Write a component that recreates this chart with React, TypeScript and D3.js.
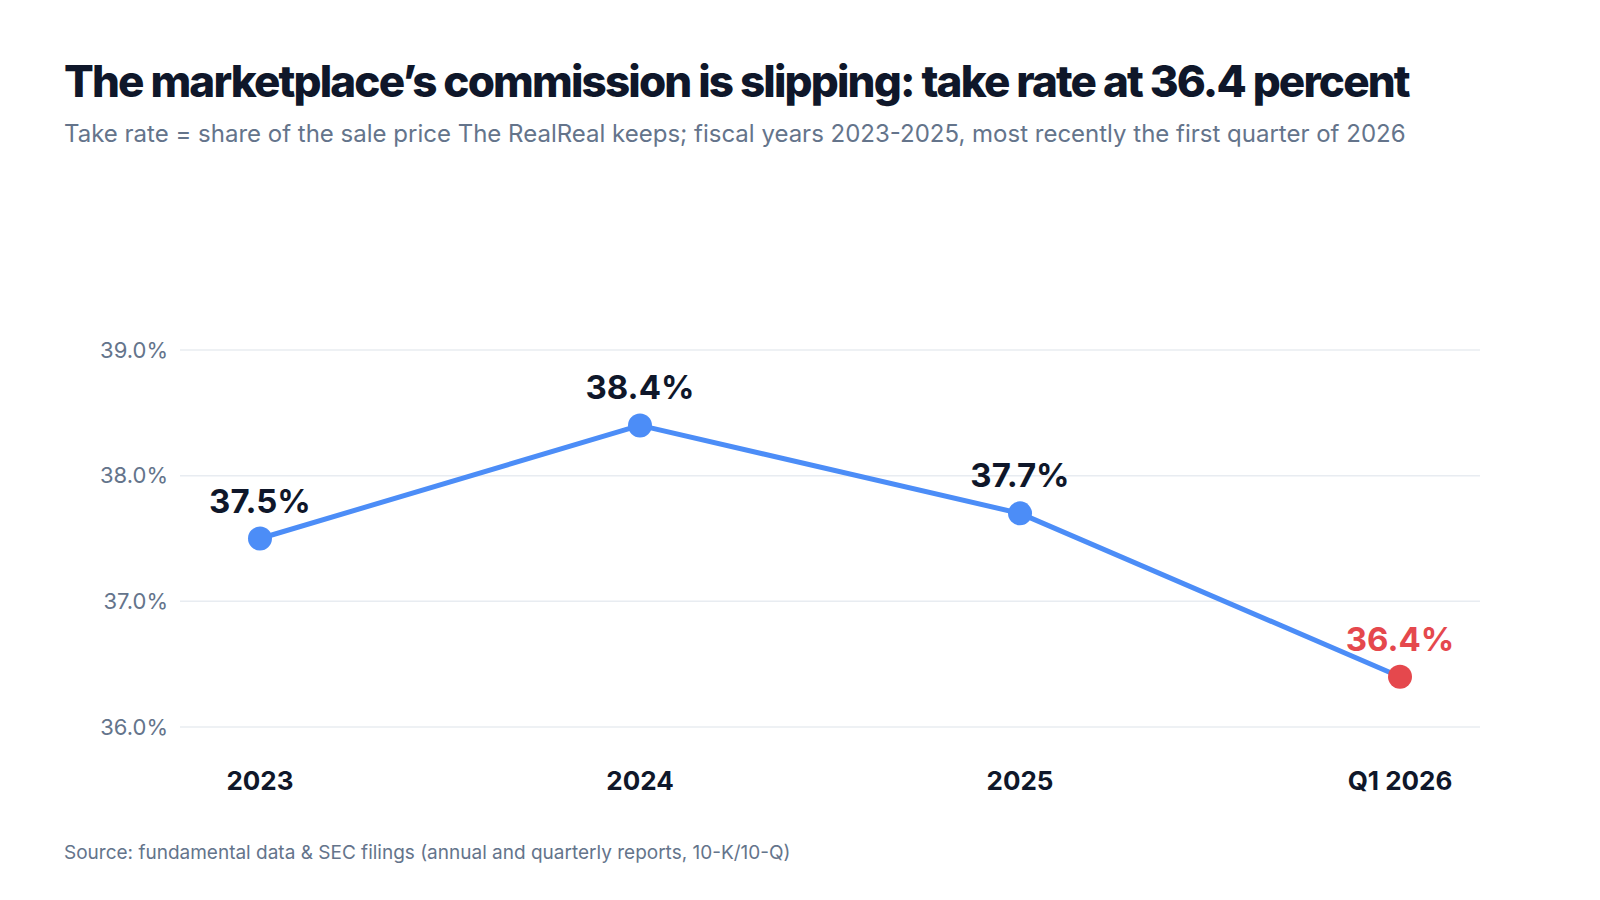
import React from "react";
import * as d3 from "d3";

const categories = ["2023", "2024", "2025", "Q1 2026"];
const takeRate = [37.5, 38.4, 37.7, 36.4];
const yTicks = [36, 37, 38, 39];
const highlightIndex = 3;

const W = 1600;
const H = 900;
const FONT = "Inter, 'Noto Sans', sans-serif";
const BLUE = "#4C8DF7";
const RED = "#E5484D";
const DARK = "#0F172A";
const SLATE = "#64748B";

export default function App() {
  const x = d3.scalePoint<string>().domain(categories).range([180, 1480]).padding(0.2105);
  const y = d3.scaleLinear().domain([36, 39]).range([727, 350]);
  const line = d3
    .line<number>()
    .x((_, i) => x(categories[i]) as number)
    .y((d) => y(d));

  return (
    <svg width={W} height={H} style={{ position: "absolute", left: 0, top: 0, background: "#fff" }} fontFamily={FONT}>
      <rect width={W} height={H} fill="#fff" />
      <text x={64} y={97} fontSize={44} fontWeight={800} fill={DARK} letterSpacing="-0.042em">
        The marketplace’s commission is slipping: take rate at 36.4 percent
      </text>
      <text x={64} y={142} fontSize={24} fill={SLATE}>
        Take rate = share of the sale price The RealReal keeps; fiscal years 2023-2025, most recently the first quarter of 2026
      </text>

      {yTicks.map((t) => (
        <g key={t}>
          <line x1={180} x2={1480} y1={y(t)} y2={y(t)} stroke="#E8ECF1" strokeWidth={1.5} />
          <text x={168} y={y(t)} dy="0.35em" textAnchor="end" fontSize={22} fill={SLATE}>
            {t.toFixed(1)}%
          </text>
        </g>
      ))}

      <path d={line(takeRate) || ""} fill="none" stroke={BLUE} strokeWidth={5} strokeLinejoin="round" />

      {takeRate.map((v, i) => {
        const cx = x(categories[i]) as number;
        const cy = y(v);
        const hl = i === highlightIndex;
        return (
          <g key={categories[i]}>
            <circle cx={cx} cy={cy} r={12} fill={hl ? RED : BLUE} />
            <text x={cx} y={cy - 26} textAnchor="middle" fontSize={33} fontWeight={700} fill={hl ? RED : DARK}>
              {v.toFixed(1)}%
            </text>
          </g>
        );
      })}

      {categories.map((c) => (
        <text key={c} x={x(c) as number} y={790} textAnchor="middle" fontSize={26} fontWeight={700} fill={DARK}>
          {c}
        </text>
      ))}

      <text x={64} y={859} fontSize={19} fill={SLATE}>
        Source: fundamental data &amp; SEC filings (annual and quarterly reports, 10-K/10-Q)
      </text>
    </svg>
  );
}
